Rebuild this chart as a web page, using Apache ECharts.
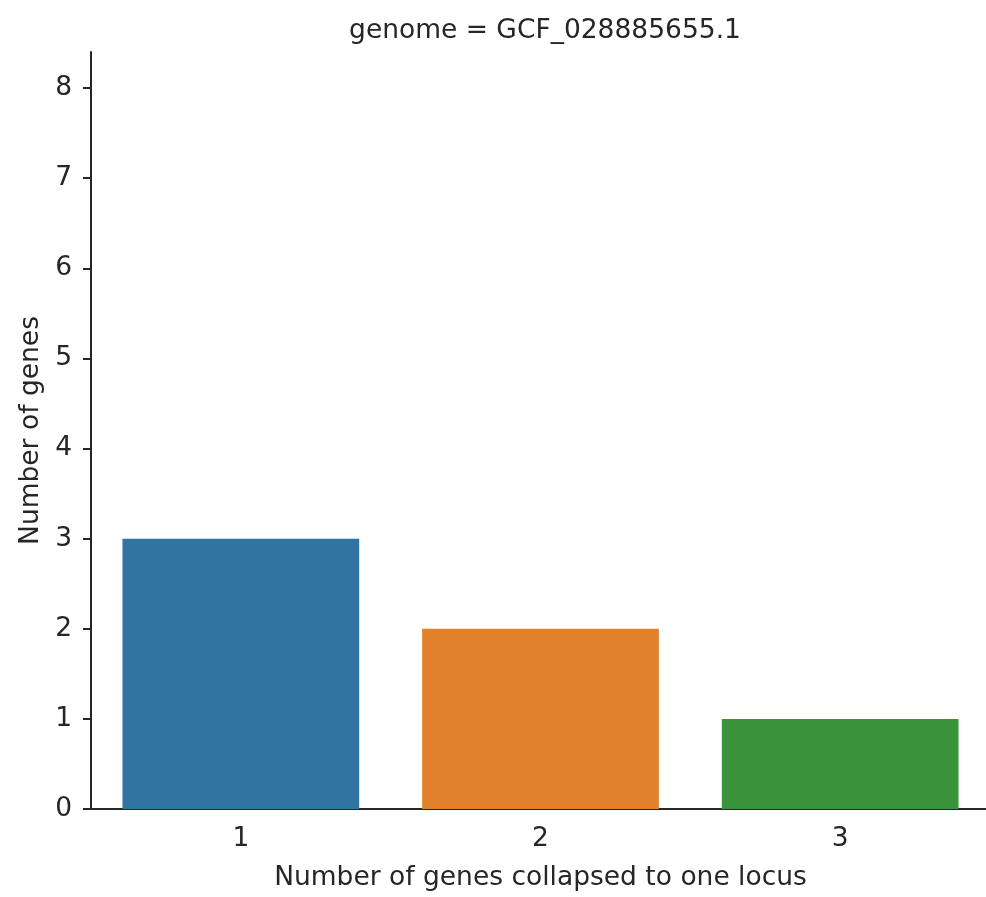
<!DOCTYPE html>
<html>
<head>
<meta charset="utf-8">
<script src="https://cdn.jsdelivr.net/npm/echarts@6/dist/echarts.min.js"></script>
<style>
html,body{margin:0;padding:0;background:#fff;overflow:hidden;width:986px;height:897px;}
#chart{width:990px;height:897px;}
</style>
</head>
<body>
<div id="chart"></div>
<script>
var categories = ['1', '2', '3'];
var geneCounts = [3, 2, 1];
var barColors = ['#3274a1', '#e1812c', '#3a923a'];
var titleText = 'genome = GCF_028885655.1';
var xAxisLabel = 'Number of genes collapsed to one locus';
var yAxisLabel = 'Number of genes';

var FONT = 'DejaVu Sans';
var FS = 26.5;
var TXT = '#262626';
var chart = echarts.init(document.getElementById('chart'), null, {renderer: 'canvas'});
chart.setOption({
  animation: false,
  backgroundColor: '#ffffff',
  title: {
    text: titleText,
    left: 540, top: 13, textAlign: 'center',
    textStyle: {fontFamily: FONT, fontSize: FS, fontWeight: 'normal', color: TXT}
  },
  grid: {left: 91, top: 52, right: 0, bottom: 88, containLabel: false},
  xAxis: {
    type: 'category',
    data: categories,
    name: xAxisLabel,
    nameLocation: 'middle',
    nameGap: 56,
    nameTextStyle: {fontFamily: FONT, fontSize: FS, color: TXT},
    axisLine: {lineStyle: {color: TXT, width: 2}},
    axisTick: {alignWithLabel: true, length: 7, lineStyle: {color: TXT, width: 2}},
    axisLabel: {fontFamily: FONT, fontSize: FS, color: TXT, margin: 17},
    splitLine: {show: false}
  },
  yAxis: {
    type: 'value',
    min: 0, max: 8.4, interval: 1,
    name: yAxisLabel,
    nameLocation: 'middle',
    nameGap: 45,
    nameTextStyle: {fontFamily: FONT, fontSize: FS, color: TXT},
    axisLine: {show: true, lineStyle: {color: TXT, width: 2}},
    axisTick: {show: true, length: 8, lineStyle: {color: TXT, width: 2}},
    axisLabel: {fontFamily: FONT, fontSize: FS, color: TXT, margin: 19, showMaxLabel: false},
    splitLine: {show: false}
  },
  series: [{
    type: 'bar',
    data: geneCounts.map(function (v, i) {
      return {value: v, itemStyle: {color: barColors[i]}};
    }),
    barCategoryGap: '21%'
  }]
});
</script>
</body>
</html>
